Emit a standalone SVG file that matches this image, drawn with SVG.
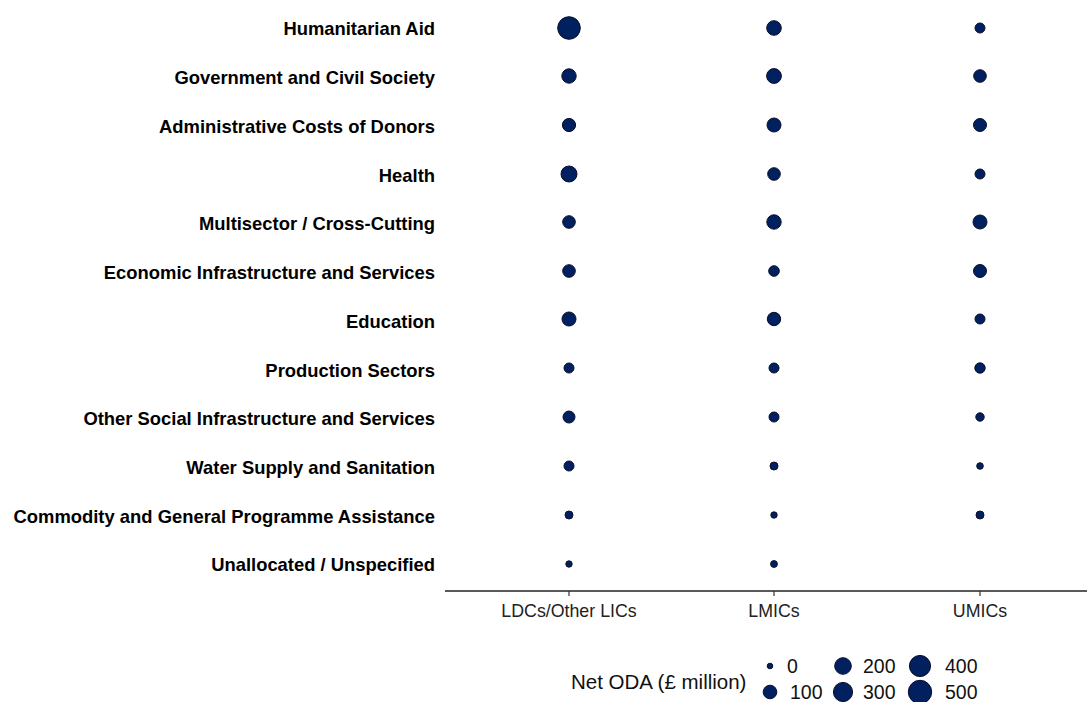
<svg xmlns="http://www.w3.org/2000/svg" width="1087" height="702" viewBox="0 0 1087 702">
<style>
.lab{font-family:"Liberation Sans",Arial,sans-serif;font-weight:bold;font-size:18.4px;fill:#000;text-anchor:end}
.tick{font-family:"Liberation Sans",Arial,sans-serif;font-size:17.8px;fill:#222;text-anchor:middle}
.leg{font-family:"Liberation Sans",Arial,sans-serif;font-size:19.5px;fill:#111}
.legt{font-family:"Liberation Sans",Arial,sans-serif;font-size:20.5px;fill:#111}
.d{fill:#002060;stroke:#0a0f2a;stroke-width:1}
</style>
<rect width="1087" height="702" fill="#fff"/>
<g id="labels">
<text class="lab" x="435" y="35">Humanitarian Aid</text>
<text class="lab" x="435" y="84">Government and Civil Society</text>
<text class="lab" x="435" y="133">Administrative Costs of Donors</text>
<text class="lab" x="435" y="182">Health</text>
<text class="lab" x="435" y="230">Multisector / Cross-Cutting</text>
<text class="lab" x="435" y="279">Economic Infrastructure and Services</text>
<text class="lab" x="435" y="328">Education</text>
<text class="lab" x="435" y="377">Production Sectors</text>
<text class="lab" x="435" y="425">Other Social Infrastructure and Services</text>
<text class="lab" x="435" y="474">Water Supply and Sanitation</text>
<text class="lab" x="435" y="523">Commodity and General Programme Assistance</text>
<text class="lab" x="435" y="571">Unallocated / Unspecified</text>
</g>
<g id="axis">
<line x1="445" y1="591" x2="1087" y2="591" stroke="#222" stroke-width="1.5"/>
<line x1="569" y1="591" x2="569" y2="596" stroke="#333" stroke-width="1.2"/>
<line x1="774" y1="591" x2="774" y2="596" stroke="#333" stroke-width="1.2"/>
<line x1="980" y1="591" x2="980" y2="596" stroke="#333" stroke-width="1.2"/>
<text class="tick" x="569" y="617">LDCs/Other LICs</text>
<text class="tick" x="774" y="617">LMICs</text>
<text class="tick" x="980" y="617">UMICs</text>
</g>
<g id="dots">
<circle class="d" cx="569" cy="28" r="11.3"/>
<circle class="d" cx="774" cy="28" r="7.3"/>
<circle class="d" cx="980" cy="28" r="5"/>
<circle class="d" cx="569" cy="76" r="7.2"/>
<circle class="d" cx="774" cy="76" r="7.4"/>
<circle class="d" cx="980" cy="76" r="6.3"/>
<circle class="d" cx="569" cy="125" r="6.6"/>
<circle class="d" cx="774" cy="125" r="7"/>
<circle class="d" cx="980" cy="125" r="6.5"/>
<circle class="d" cx="569" cy="174" r="8"/>
<circle class="d" cx="774" cy="174" r="6.3"/>
<circle class="d" cx="980" cy="174" r="5"/>
<circle class="d" cx="569" cy="222" r="6.3"/>
<circle class="d" cx="774" cy="222" r="7.2"/>
<circle class="d" cx="980" cy="222" r="7"/>
<circle class="d" cx="569" cy="271" r="6.3"/>
<circle class="d" cx="774" cy="271" r="5.3"/>
<circle class="d" cx="980" cy="271" r="6.5"/>
<circle class="d" cx="569" cy="319" r="7"/>
<circle class="d" cx="774" cy="319" r="6.7"/>
<circle class="d" cx="980" cy="319" r="5"/>
<circle class="d" cx="569" cy="368" r="5"/>
<circle class="d" cx="774" cy="368" r="5"/>
<circle class="d" cx="980" cy="368" r="5.2"/>
<circle class="d" cx="569" cy="417" r="6"/>
<circle class="d" cx="774" cy="417" r="5"/>
<circle class="d" cx="980" cy="417" r="4.2"/>
<circle class="d" cx="569" cy="466" r="5"/>
<circle class="d" cx="774" cy="466" r="4"/>
<circle class="d" cx="980" cy="466" r="3.3"/>
<circle class="d" cx="569" cy="515" r="4"/>
<circle class="d" cx="774" cy="515" r="3.2"/>
<circle class="d" cx="980" cy="515" r="4"/>
<circle class="d" cx="569" cy="564" r="3.2"/>
<circle class="d" cx="774" cy="564" r="3.4"/>
</g>
<g id="legend">
<text class="legt" x="571" y="689">Net ODA (£ million)</text>
<circle class="d" cx="770" cy="666" r="2.8"/>
<text class="leg" x="787" y="673">0</text>
<circle class="d" cx="770" cy="692" r="6.8"/>
<text class="leg" x="790" y="699">100</text>
<circle class="d" cx="843" cy="666" r="8.3"/>
<text class="leg" x="863" y="673">200</text>
<circle class="d" cx="843" cy="692" r="9.6"/>
<text class="leg" x="863" y="699">300</text>
<circle class="d" cx="920" cy="666" r="10.6"/>
<text class="leg" x="945" y="673">400</text>
<circle class="d" cx="920" cy="692" r="11.7"/>
<text class="leg" x="945" y="699">500</text>
</g>
</svg>
